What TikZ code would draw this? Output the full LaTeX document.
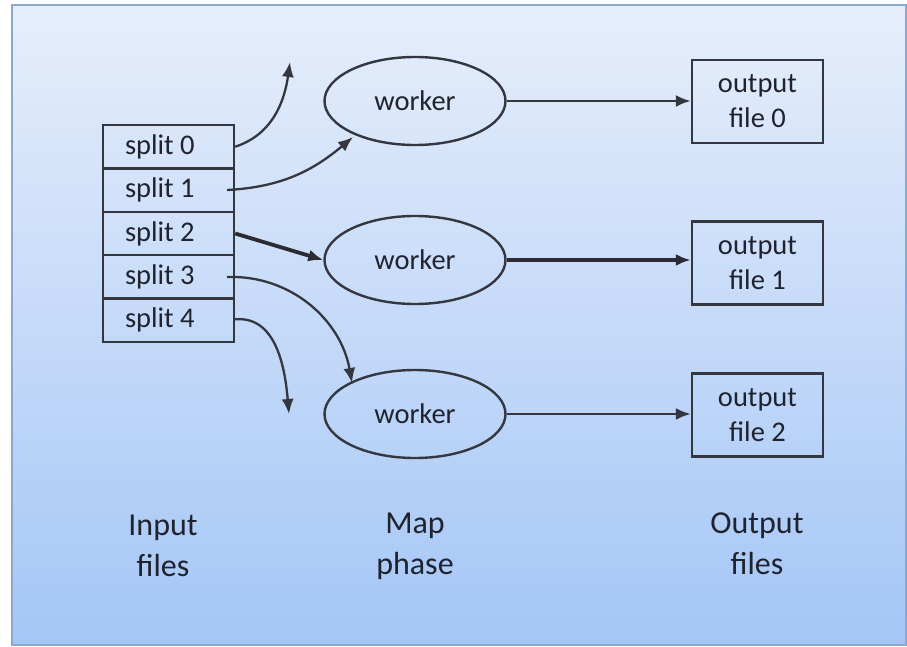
\documentclass[tikz,border=0pt]{standalone}
\usepackage{fontspec}
\setmainfont{Carlito}
\usetikzlibrary{arrows.meta,shapes.geometric}
\definecolor{bgtop}{RGB}{230,238,251}
\definecolor{bgbot}{RGB}{164,198,246}
\definecolor{panelborder}{RGB}{140,168,208}
\definecolor{ink}{RGB}{52,54,64}
\definecolor{txt}{RGB}{32,34,46}
\newcommand{\splitlabel}[1]{\makebox[87pt][l]{#1}}
\tikzset{
  splitbox/.style={draw=ink, line width=2.4pt, minimum width=131pt, minimum height=43.4pt, inner sep=0pt, text=txt, font=\fontsize{28.5}{34}\selectfont},
  workernode/.style={draw=ink, line width=2.4pt, ellipse, minimum width=181pt, minimum height=88pt, inner sep=0pt, text=txt, font=\fontsize{28.5}{34}\selectfont},
  outbox/.style={draw=ink, line width=2.4pt, minimum width=131pt, minimum height=83pt, inner sep=0pt, text=txt, align=center, font=\fontsize{28.5}{35}\selectfont},
  caption/.style={text=txt, align=center, font=\fontsize{32}{41}\selectfont},
  conn/.style={draw=ink, line width=2.3pt, -{Latex[length=15pt,width=12pt]}},
  thickconn/.style={draw=ink!80!black, line width=3.8pt, -{Latex[length=15pt,width=12pt]}},
}
\begin{document}
\begin{tikzpicture}[x=1pt,y=1pt]
\useasboundingbox (0,0) rectangle (907,-647);
\fill[white] (0,0) rectangle (907,-647);
\shade[top color=bgtop, bottom color=bgbot] (12,-5) rectangle (906,-645);
\draw[panelborder, line width=2pt] (12,-5) rectangle (906,-645);

% splits
\node[splitbox] (s0) at (168.5,-146.7) {\splitlabel{split 0}};
\node[splitbox] (s1) at (168.5,-190.1) {\splitlabel{split 1}};
\node[splitbox] (s2) at (168.5,-233.5) {\splitlabel{split 2}};
\node[splitbox] (s3) at (168.5,-276.9) {\splitlabel{split 3}};
\node[splitbox] (s4) at (168.5,-320.3) {\splitlabel{split 4}};

% workers
\node[workernode] (w0) at (415,-101) {worker};
\node[workernode] (w1) at (415,-260) {worker};
\node[workernode] (w2) at (415,-414) {worker};

% outputs
\node[outbox] (o0) at (757.5,-101.5) {output\\file 0};
\node[outbox] (o1) at (757.5,-263) {output\\file 1};
\node[outbox] (o2) at (757.5,-415) {output\\file 2};

% free ends
\coordinate (e0) at (290,-62);
\coordinate (e4) at (289,-414);
\coordinate (t1) at (353,-137);
\coordinate (t3) at (352,-383);
\coordinate (b1) at (227,-190);
\coordinate (b3) at (227,-277);

% connectors
\draw[conn] (s0.east) to[out=18,in=-98] (e0);
\draw[conn] (b1) to[out=3,in=-140] (t1);
\draw[thickconn] (s2.east) -- (w1.west);
\draw[conn] (b3) to[out=2,in=100] (t3);
\draw[conn] ([yshift=1pt]s4.east) to[out=5,in=95] (e4);

\draw[conn] (w0.east) -- (o0.west |- w0.east);
\draw[thickconn] (w1.east) -- (o1.west |- w1.east);
\draw[conn] (w2.east) -- (o2.west |- w2.east);

% captions
\node[caption] (c0) at (163,-546) {Input\\files};
\node[caption] (c1) at (415,-546) {Map\\phase};
\node[caption] (c2) at (757,-544) {Output\\files};
\end{tikzpicture}
\end{document}
